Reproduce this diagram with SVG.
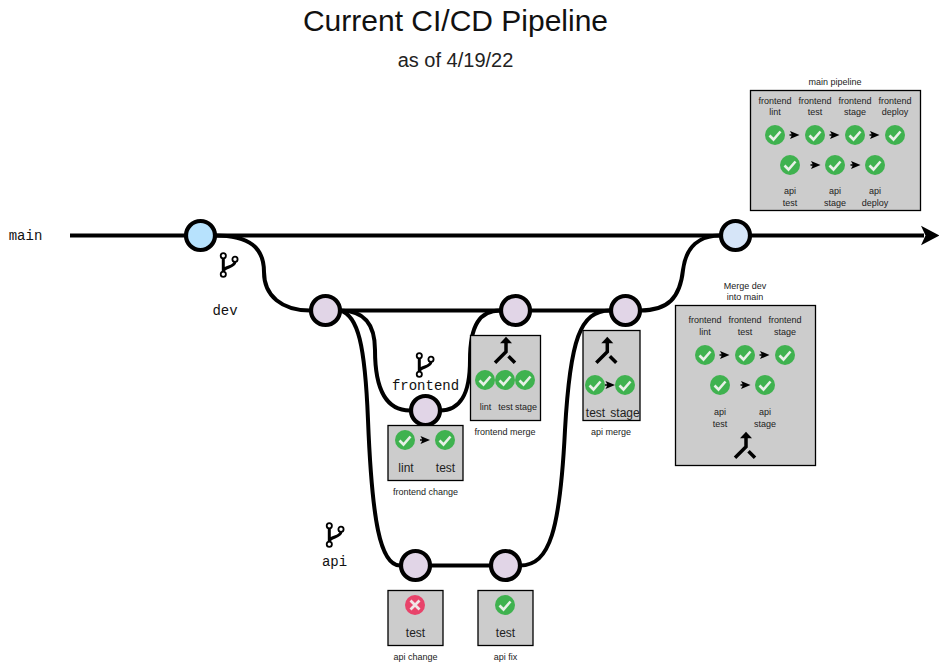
<svg xmlns="http://www.w3.org/2000/svg" width="939" height="663" viewBox="0 0 939 663">
<style>
text{font-family:"Liberation Sans",Arial,sans-serif;fill:#222;text-anchor:middle}
.s{font-size:9px}
.m{font-size:12px}
.mono{font-family:"Liberation Mono","Courier New",monospace;font-size:14px;fill:#111}
.box{fill:#ccc;stroke:#000;stroke-width:1.3}
.node{stroke:#000;stroke-width:4.2;fill:#e1d5e7}
.conn{fill:none;stroke:#000;stroke-width:4}
</style>
<defs>
<g id="ok"><circle r="10" fill="#3fb24f"/><path d="M-5.500,0.500 L-1.500,4.500 L5.500,-3.500" fill="none" stroke="#e8f0e8" stroke-width="2.6"/></g>
<g id="bad"><circle r="10" fill="#e8436a"/><path d="M-4.500,-4.500 L4.500,4.500 M4.500,-4.500 L-4.500,4.500" fill="none" stroke="#f0e4e6" stroke-width="2.800"/></g>
<path id="arr" d="M0,-4 L9.500,0 L0,4 L2,0 Z M-0.500,-0.700 H3 V0.700 H-0.500 Z" fill="#000"/>
<g id="branch" fill="none" stroke="#000"><path d="M0,2.500 V16 M0,15.500 C1,10 11,12.500 11.700,6" stroke-width="3"/><circle r="2.600" cx="0" cy="0" stroke-width="1.800"/><circle r="2.600" cx="11.700" cy="3.600" stroke-width="1.800"/><circle r="2.600" cx="0" cy="18.600" stroke-width="1.800"/></g>
<g id="merge"><path d="M0,0 L6,6.500 H-6 Z" fill="#000"/><path d="M0,4 V15 L-11,26 M2.500,19.500 L9,26" fill="none" stroke="#000" stroke-width="3.500"/></g>
</defs>

<text x="455.500" y="31" font-size="30" style="fill:#111">Current CI/CD Pipeline</text>
<text x="455.500" y="67" font-size="20" style="fill:#222">as of 4/19/22</text>

<g id="connectors">
<path class="conn" d="M70,235.500 H924"/>
<path d="M939.500,235.500 L921,225.700 L925.500,235.500 L921,245.300 Z" fill="#000"/>
<path class="conn" d="M215,235.500 C250,235.500 264,248 264,272 C264,296 282,310.500 310,310.500"/>
<path class="conn" d="M340,310.500 H610"/>
<path class="conn" d="M640,310.500 C668,310.500 680,298 683,270 C686,246 700,235.500 720,235.500"/>
<path class="conn" d="M340,310.500 C365,310.500 375,325 375,350 C375,390 387,410.500 410,410.500"/>
<path class="conn" d="M440,410.500 C460,410.500 470,395 470,360 C470,325 480,310.500 500,310.500"/>
<path class="conn" d="M340,310.500 C358,315 365,345 368,420 C372,520 380,565.500 400,565.500"/>
<path class="conn" d="M430,565.500 H490"/>
<path class="conn" d="M520,565.500 C550,565.500 560,530 565,430 C570,340 580,310.500 610,310.500"/>
</g>

<g id="node-main-1"><circle class="node" cx="200.500" cy="235.500" r="14.500" style="fill:#b7e2fd"/></g>
<g id="node-main-2"><circle class="node" cx="735.500" cy="235.500" r="14.500" style="fill:#d6e5f8"/></g>
<g id="node-dev-1"><circle class="node" cx="325.500" cy="310.500" r="14.500"/></g>
<g id="node-dev-2"><circle class="node" cx="515.500" cy="310.500" r="14.500"/></g>
<g id="node-dev-3"><circle class="node" cx="625.500" cy="310.500" r="14.500"/></g>
<g id="node-frontend"><circle class="node" cx="425.500" cy="410.500" r="14.500"/></g>
<g id="node-api-1"><circle class="node" cx="415.500" cy="565.500" r="14.500"/></g>
<g id="node-api-2"><circle class="node" cx="505.500" cy="565.500" r="14.500"/></g>

<g id="label-main"><text class="mono" x="25.500" y="240">main</text></g>
<g id="label-dev"><use href="#branch" x="223.300" y="255.700"/><text class="mono" x="225" y="315">dev</text></g>
<g id="label-frontend"><use href="#branch" x="419.300" y="355.700"/><text class="mono" x="425.500" y="390">frontend</text></g>
<g id="label-api"><use href="#branch" x="329.300" y="525.700"/><text class="mono" x="334.500" y="566">api</text></g>

<g id="main-pipeline">
<text class="s" x="835" y="85">main pipeline</text>
<rect class="box" x="750.500" y="90.500" width="170" height="120"/>
<text class="s" x="775" y="104">frontend</text><text class="s" x="775" y="115">lint</text>
<text class="s" x="815" y="104">frontend</text><text class="s" x="815" y="115">test</text>
<text class="s" x="855" y="104">frontend</text><text class="s" x="855" y="115">stage</text>
<text class="s" x="895" y="104">frontend</text><text class="s" x="895" y="115">deploy</text>
<use href="#ok" x="775" y="135"/><use href="#ok" x="815" y="135"/><use href="#ok" x="855" y="135"/><use href="#ok" x="895" y="135"/>
<use href="#arr" x="790" y="135"/><use href="#arr" x="830" y="135"/><use href="#arr" x="870" y="135"/>
<use href="#ok" x="790" y="165"/><use href="#ok" x="835" y="165"/><use href="#ok" x="875" y="165"/>
<use href="#arr" x="811" y="165"/><use href="#arr" x="851" y="165"/>
<text class="s" x="790" y="194">api</text><text class="s" x="790" y="206">test</text>
<text class="s" x="835" y="194">api</text><text class="s" x="835" y="206">stage</text>
<text class="s" x="875" y="194">api</text><text class="s" x="875" y="206">deploy</text>
</g>

<g id="merge-dev-main">
<text class="s" x="745" y="289">Merge dev</text><text class="s" x="745" y="300">into main</text>
<rect class="box" x="675.500" y="305.500" width="140" height="160"/>
<text class="s" x="705" y="323">frontend</text><text class="s" x="705" y="335">lint</text>
<text class="s" x="745" y="323">frontend</text><text class="s" x="745" y="335">test</text>
<text class="s" x="785" y="323">frontend</text><text class="s" x="785" y="335">stage</text>
<use href="#ok" x="705" y="355"/><use href="#ok" x="745" y="355"/><use href="#ok" x="785" y="355"/>
<use href="#arr" x="720" y="355"/><use href="#arr" x="760" y="355"/>
<use href="#ok" x="720" y="385"/><use href="#ok" x="765" y="385"/>
<use href="#arr" x="741" y="385"/>
<text class="s" x="720" y="415">api</text><text class="s" x="720" y="427">test</text>
<text class="s" x="765" y="415">api</text><text class="s" x="765" y="427">stage</text>
<use href="#merge" x="746" y="431.700"/>
</g>

<g id="frontend-change">
<rect class="box" x="388" y="425.500" width="75" height="55"/>
<use href="#ok" x="405" y="440"/><use href="#ok" x="445" y="440"/><use href="#arr" x="420.500" y="440"/>
<text class="m" x="406" y="472">lint</text><text class="m" x="445.500" y="472">test</text>
<text class="s" x="425.500" y="495">frontend change</text>
</g>

<g id="frontend-merge">
<rect class="box" x="470.500" y="335.500" width="70" height="85"/>
<use href="#merge" x="506" y="336.700"/>
<use href="#ok" x="485" y="380"/><use href="#ok" x="505" y="380"/><use href="#ok" x="525" y="380"/>
<text class="s" x="485.500" y="410">lint</text><text class="s" x="505.500" y="410">test</text><text class="s" x="526" y="410">stage</text>
<text class="s" x="505" y="435">frontend merge</text>
</g>

<g id="api-merge">
<rect class="box" x="583" y="330.500" width="57" height="90"/>
<use href="#merge" x="607.300" y="336.700"/>
<use href="#ok" x="595" y="385"/><use href="#ok" x="625" y="385"/><use href="#arr" x="605.500" y="385"/>
<text class="m" x="595.500" y="417">test</text><text class="m" x="625" y="417">stage</text>
<text class="s" x="611" y="435">api merge</text>
</g>

<g id="api-change">
<rect class="box" x="388" y="590.500" width="55" height="55"/>
<use href="#bad" x="415" y="605"/>
<text class="m" x="415.500" y="637">test</text>
<text class="s" x="415.500" y="660">api change</text>
</g>

<g id="api-fix">
<rect class="box" x="478" y="590.500" width="55" height="55"/>
<use href="#ok" x="505" y="605"/>
<text class="m" x="505.500" y="637">test</text>
<text class="s" x="505.500" y="660">api fix</text>
</g>
</svg>
